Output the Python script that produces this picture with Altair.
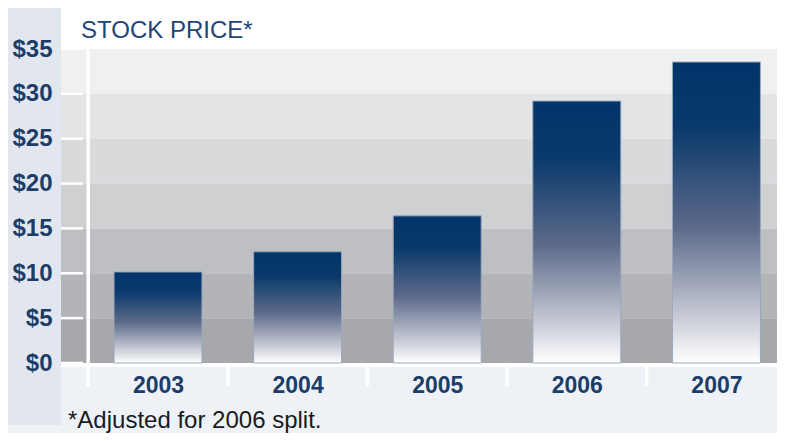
import altair as alt
import pandas as pd

# ---- data ----
years = [2003, 2004, 2005, 2006, 2007]
prices = [10.15, 12.4, 16.4, 29.2, 33.55]
tick_values = [0, 5, 10, 15, 20, 25, 30, 35]
band_lows = [0, 5, 10, 15, 20, 25, 30]
band_highs = [5, 10, 15, 20, 25, 30, 35]
boundaries = [2002.5, 2003.5, 2004.5, 2005.5, 2006.5]
title_text = "STOCK PRICE*"
footnote_text = "*Adjusted for 2006 split."

# ---- styles ----
BAND_COLORS = ["#a7a8ac", "#b3b4b7", "#bebfc2", "#cfd0d2", "#d9dadc", "#e3e4e6", "#f0f0f0"]
NAVY = "#1d3d69"
W, H = 716, 314
FONT = "Liberation Sans"

bars_df = pd.DataFrame({"year": years, "price": prices})
bands_df = pd.DataFrame({"lo": band_lows, "hi": band_highs, "band": list(range(len(band_lows)))})
ticks_df = pd.DataFrame({"v": tick_values})
bnd_df = pd.DataFrame({"b": boundaries})
one = pd.DataFrame({"k": [0]})

xscale = alt.Scale(domain=[2002.341, 2007.398], nice=False, zero=False)
yscale = alt.Scale(domain=[0, 35], nice=False)

# background decorations
left_strip = alt.Chart(one).mark_rect(color="#e2e7ef").encode(
    x=alt.value(-53), x2=alt.value(0), y=alt.value(-41), y2=alt.value(376)
)
title_panel = alt.Chart(one).mark_rect(color="#ffffff").encode(
    x=alt.value(0), x2=alt.value(W), y=alt.value(-41), y2=alt.value(0)
)

bands = alt.Chart(bands_df).mark_rect().encode(
    x=alt.value(0), x2=alt.value(W),
    y=alt.Y("lo:Q", scale=yscale,
            axis=alt.Axis(values=tick_values, labelExpr="'$' + datum.value",
                          domain=False, ticks=False, grid=False, title=None,
                          labelFont=FONT, labelFontSize=24, labelFontWeight="bold",
                          labelColor=NAVY, labelPadding=9, zindex=2)),
    y2="hi:Q",
    color=alt.Color("band:O", scale=alt.Scale(domain=list(range(len(band_lows))), range=BAND_COLORS), legend=None),
)

left_ticks = alt.Chart(ticks_df).mark_rule(color="white", strokeWidth=2.5).encode(
    y=alt.Y("v:Q", scale=yscale), x=alt.value(0), x2=alt.value(22)
)

bottom_stripe = alt.Chart(one).mark_rect(color="white").encode(
    x=alt.value(0), x2=alt.value(W), y=alt.value(H), y2=alt.value(H + 4)
)

axis_line = alt.Chart(pd.DataFrame({"b": [boundaries[0]]})).mark_rule(color="white", strokeWidth=3.5).encode(
    x=alt.X("b:Q", scale=xscale), y=alt.value(0), y2=alt.value(H + 23)
)

bottom_ticks = alt.Chart(bnd_df).mark_rule(color="white", strokeWidth=3.5).encode(
    x=alt.X("b:Q", scale=xscale), y=alt.value(H), y2=alt.value(H + 23)
)

grad = alt.Gradient(
    gradient="linear",
    stops=[
        alt.GradientStop(color="#02346a", offset=0),
        alt.GradientStop(color="#0a3a6c", offset=0.22),
        alt.GradientStop(color="#5d6a8a", offset=0.55),
        alt.GradientStop(color="#c9ccd7", offset=0.85),
        alt.GradientStop(color="#ffffff", offset=1),
    ],
    x1=0, x2=0, y1=0, y2=1,
)

bars = alt.Chart(bars_df).mark_bar(size=88, color=grad, stroke="#9aa8bc", strokeWidth=1).encode(
    x=alt.X("year:Q", scale=xscale,
            axis=alt.Axis(values=years, format="d", domain=False, ticks=False, grid=False,
                          title=None, labelFont=FONT, labelFontSize=23, labelFontWeight="bold",
                          labelColor=NAVY, labelPadding=11, zindex=2)),
    y=alt.Y("price:Q", scale=yscale),
)

title = alt.Chart(one).mark_text(text=title_text, font=FONT, fontSize=24, color="#1f4577",
                                 align="left", baseline="middle").encode(
    x=alt.value(20), y=alt.value(-18)
)

footnote = alt.Chart(one).mark_text(text=footnote_text, font=FONT, fontSize=24, color="#1a1a1a",
                                    align="left", baseline="middle").encode(
    x=alt.value(7), y=alt.value(372)
)

chart = alt.layer(
    left_strip, title_panel, bands, left_ticks, bottom_stripe, axis_line, bottom_ticks, bars, title, footnote
).properties(
    width=W, height=H,
    padding={"left": 53, "top": 41, "right": 0, "bottom": 70},
    autosize=alt.AutoSizeParams(type="none"),
    background="#eef1f6",
).configure_view(stroke=None, clip=False)

chart.save("out.html", embed_options={"renderer": "svg", "actions": False})
